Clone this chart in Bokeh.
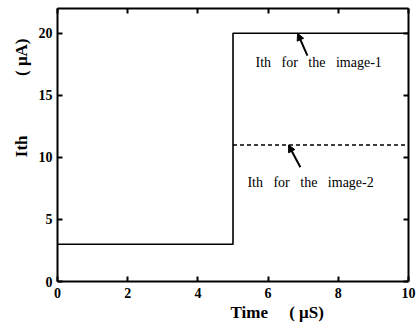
import math
from bokeh.plotting import figure
from bokeh.models import (LinearAxis, FixedTicker, Label, Arrow, NormalHead,
                          Range1d, Title)
from bokeh.embed import file_html
from bokeh.resources import INLINE

# threshold current for each image (uA) against time (us)
time_img1 = [0, 5, 5, 10]
ith_img1 = [3, 3, 20, 20]
time_img2 = [5, 10]
ith_img2 = [11, 11]

x_ticks = [0, 2, 4, 6, 8, 10]
y_ticks = [0, 5, 10, 15, 20]

NB = "\u00a0"
label_img1 = f"Ith{NB*3}for{NB*3}the{NB*3}image-1"
label_img2 = f"Ith{NB*3}for{NB*3}the{NB*3}image-2"
x_title = f"Time{NB*5}({NB}\u03bcS)"
y_title = f"Ith{NB*14}({NB}\u03bcA)"
# arrow (tail -> head) pointing at each curve
arrow_img1 = dict(x_start=7.12, y_start=18.2, x_end=6.84, y_end=20.0)
arrow_img2 = dict(x_start=6.92, y_start=9.2, x_end=6.58, y_end=11.0)

SERIF = "Liberation Serif"

p = figure(width=416, height=327, output_backend="svg", toolbar_location=None,
           x_range=Range1d(0, 10), y_range=Range1d(0, 22),
           min_border_left=57, min_border_right=8, min_border_top=8,
           min_border_bottom=46)
p.outline_line_color = None
p.grid.visible = False
p.background_fill_color = "white"

p.line(time_img1, ith_img1, line_color="black", line_width=1.6)
p.line(time_img2, ith_img2, line_color="black", line_width=1.6,
       line_dash="4 3")


def style_axis(ax, show_labels):
    ax.axis_line_width = 2
    ax.axis_line_color = "black"
    ax.major_tick_in = 5
    ax.major_tick_out = 0
    ax.major_tick_line_width = 2
    ax.minor_tick_line_color = None
    ax.major_label_text_font = SERIF
    ax.major_label_text_font_style = "bold"
    ax.major_label_text_font_size = "14px"
    ax.major_label_text_color = "black"
    if not show_labels:
        ax.major_label_text_color = None
        ax.major_label_text_font_size = "1px"
        ax.major_label_standoff = 0


p.xaxis.ticker = FixedTicker(ticks=x_ticks)
p.yaxis.ticker = FixedTicker(ticks=y_ticks)
style_axis(p.xaxis[0], True)
style_axis(p.yaxis[0], True)
p.xaxis.major_label_standoff = 6
p.yaxis.major_label_standoff = 5

top = LinearAxis(ticker=FixedTicker(ticks=x_ticks))
right = LinearAxis(ticker=FixedTicker(ticks=y_ticks))
style_axis(top, False)
style_axis(right, False)
p.add_layout(top, "above")
p.add_layout(right, "right")

# axis titles
p.add_layout(Title(text=x_title, text_font=SERIF, text_font_size="17px",
                   text_font_style="bold", text_color="black", align="left",
                   offset=173, standoff=0), "below")
p.add_layout(Title(text=y_title, text_font=SERIF, text_font_size="17px",
                   text_font_style="bold", text_color="black", align="right",
                   offset=30, standoff=9), "left")

# annotations
p.add_layout(Label(x=5.64, y=17.66, text=label_img1, text_font=SERIF,
                   text_font_size="14px", text_color="black",
                   text_baseline="middle"))
p.add_layout(Label(x=5.41, y=8.0, text=label_img2, text_font=SERIF,
                   text_font_size="14px", text_color="black",
                   text_baseline="middle"))
for a in (arrow_img1, arrow_img2):
    p.add_layout(Arrow(end=NormalHead(size=7, fill_color="black",
                                      line_color="black"),
                       line_width=2, line_color="black", **a))

open("out.html", "w").write(file_html(p, INLINE))
